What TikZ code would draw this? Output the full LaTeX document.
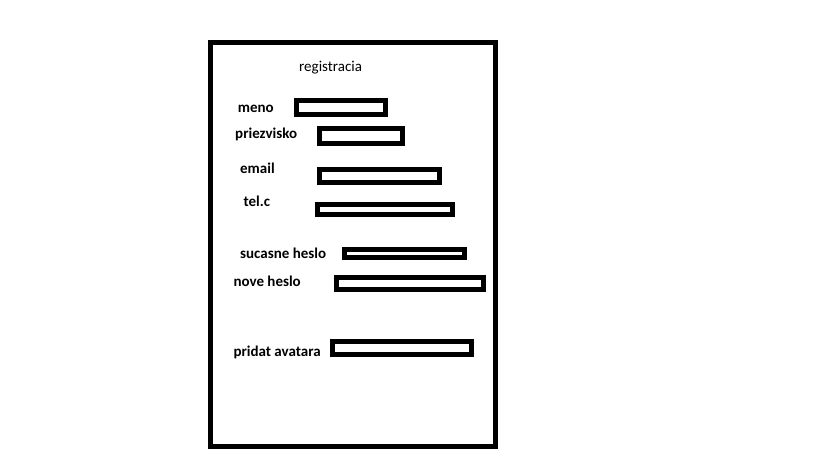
\documentclass[tikz,border=0pt]{standalone}
\usepackage{fontspec}
\setmainfont{Carlito}
\usepackage{tikz}
\tikzstyle{frame}     = [draw=black, line width=5pt]
\tikzstyle{field}     = [rectangle, draw=black, line width=5pt, inner sep=0pt,
                         fill=white]
\tikzstyle{fieldname} = [anchor=base west, inner sep=0pt,
                         font=\fontsize{15}{18}\selectfont\bfseries]
\tikzstyle{title}     = [anchor=base west, inner sep=0pt,
                         font=\fontsize{15}{18}\selectfont]

\begin{document}
\begin{tikzpicture}[x=1pt, y=-1pt]
\useasboundingbox (0,0) rectangle (819,460);
\draw [frame] (210.5,42.5) rectangle (495.5,446);

\node (reg)   [title]     at (299,71)    {registracia};

\node (meno)  [fieldname] at (237.7,112.7) {meno};
\node (priez) [fieldname] at (235,138.7)   {priezvisko};
\node (email) [fieldname] at (240,173.3)   {email};
\node (tel)   [fieldname] at (243.3,206.3) {tel.c};
\node (heslo) [fieldname] at (240,258.3)   {sucasne heslo};
\node (nove)  [fieldname] at (233.3,286)   {nove heslo};
\node (avat)  [fieldname] at (233.3,356.5) {pridat avatara};

\node (menobox)  [field, minimum width=89pt,  minimum height=14pt]   at (340.5,107.8) {};
\node (priezbox) [field, minimum width=82.4pt, minimum height=15pt]  at (361,136)     {};
\node (emailbox) [field, minimum width=119.4pt, minimum height=13.3pt] at (379.5,175.8) {};
\node (telbox)   [field, minimum width=135pt, minimum height=10.6pt] at (385,209.5)   {};
\node (heslobox) [field, minimum width=120pt, minimum height=8.3pt]  at (404.2,253.3) {};
\node (novebox)  [field, minimum width=147pt, minimum height=11.7pt] at (410,283.3)   {};
\node (avatbox)  [field, minimum width=139pt, minimum height=12.7pt] at (402,347.8)   {};
\end{tikzpicture}
\end{document}
